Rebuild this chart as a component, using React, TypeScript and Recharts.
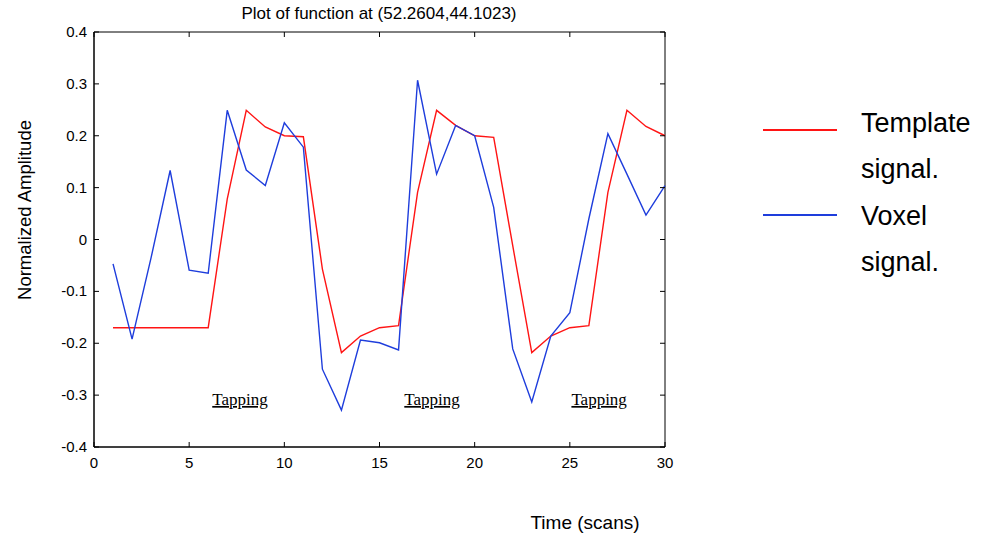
import { LineChart, Line, XAxis, YAxis, ReferenceDot, ReferenceArea } from 'recharts';

// scans 1..30
const scans = [1, 2, 3, 4, 5, 6, 7, 8, 9, 10, 11, 12, 13, 14, 15, 16, 17, 18, 19, 20, 21, 22, 23, 24, 25, 26, 27, 28, 29, 30];

const template = [
  -0.17, -0.17, -0.17, -0.17, -0.17, -0.17, 0.078, 0.249, 0.217, 0.2,
  0.198, -0.057, -0.218, -0.186, -0.17, -0.166, 0.091, 0.249, 0.22, 0.2,
  0.197, -0.012, -0.218, -0.186, -0.17, -0.166, 0.091, 0.249, 0.218, 0.2,
];

const voxel = [
  -0.047, -0.192, -0.035, 0.133, -0.059, -0.065, 0.249, 0.134, 0.104, 0.225,
  0.178, -0.25, -0.329, -0.194, -0.199, -0.213, 0.307, 0.126, 0.22, 0.2,
  0.062, -0.211, -0.313, -0.186, -0.141, 0.04, 0.204, 0.126, 0.047, 0.104,
];

const xTicks = [0, 5, 10, 15, 20, 25, 30];
const yTicks = [-0.4, -0.3, -0.2, -0.1, 0, 0.1, 0.2, 0.3, 0.4];

const tappingAt = [7.67, 17.76, 26.54];
const tappingLevel = -0.319;

const data = scans.map((t, i) => ({ t, template: template[i], voxel: voxel[i] }));

const RED = '#ff1414';
const BLUE = '#1e3ddc';
const NARROW = '"Liberation Sans Narrow", "Arial Narrow", "Liberation Sans", Arial, sans-serif';
const SANS = '"Liberation Sans", Arial, sans-serif';

function BottomTick({ x, y, payload }: any) {
  return (
    <g>
      <line x1={x} x2={x} y1={y} y2={y - 5} stroke="#000" />
      <text x={x} y={y + 21} textAnchor="middle" fontSize={15} fontFamily={NARROW} fill="#000">
        {payload.value}
      </text>
    </g>
  );
}

function LeftTick({ x, y, payload }: any) {
  return (
    <g>
      <line x1={x} x2={x + 5} y1={y} y2={y} stroke="#000" />
      <text x={x - 7} y={y + 5} textAnchor="end" fontSize={15} fontFamily={NARROW} fill="#000">
        {String(payload.value)}
      </text>
    </g>
  );
}

function TopTick({ x, y }: any) {
  return <line x1={x} x2={x} y1={y} y2={y + 5} stroke="#000" />;
}

function RightTick({ x, y }: any) {
  return <line x1={x} x2={x - 5} y1={y} y2={y} stroke="#000" />;
}

function TappingLabel({ cx, cy }: any) {
  return (
    <text
      x={cx}
      y={cy}
      textAnchor="middle"
      fontSize={17}
      fontFamily='"Liberation Serif", "Times New Roman", serif'
      textDecoration="underline"
      fill="#000"
    >
      Tapping
    </text>
  );
}

export default function App() {
  return (
    <div style={{ position: 'absolute', left: 0, top: 0, width: 988, height: 539, background: '#fff' }}>
      <LineChart
        width={988}
        height={539}
        data={data}
        margin={{ top: 31, right: 322, bottom: 0, left: 0 }}
      >
        <XAxis
          xAxisId="bottom"
          type="number"
          dataKey="t"
          domain={[0, 30]}
          ticks={xTicks}
          interval={0}
          height={92}
          tickSize={0}
          tickMargin={0}
          tickLine={false}
          axisLine={{ stroke: '#000' }}
          tick={<BottomTick />}
        />
        <XAxis
          xAxisId="top"
          orientation="top"
          type="number"
          dataKey="t"
          domain={[0, 30]}
          ticks={xTicks}
          interval={0}
          height={1}
          tickSize={0}
          tickMargin={0}
          tickLine={false}
          axisLine={false}
          tick={<TopTick />}
        />
        <YAxis
          yAxisId="left"
          type="number"
          domain={[-0.4, 0.4]}
          ticks={yTicks}
          interval={0}
          width={94}
          tickSize={0}
          tickMargin={0}
          tickLine={false}
          axisLine={{ stroke: '#000' }}
          tick={<LeftTick />}
        />
        <YAxis
          yAxisId="right"
          orientation="right"
          type="number"
          domain={[-0.4, 0.4]}
          ticks={yTicks}
          interval={0}
          width={1}
          tickSize={0}
          tickMargin={0}
          tickLine={false}
          axisLine={false}
          tick={<RightTick />}
        />
        <ReferenceArea
          xAxisId="bottom"
          yAxisId="left"
          x1={0}
          x2={30}
          y1={-0.4}
          y2={0.4}
          fill="none"
          stroke="#000"
          strokeWidth={1}
        />
        {/* invisible series so the top / right axes get their ticks */}
        <Line
          xAxisId="top"
          yAxisId="right"
          type="linear"
          dataKey="template"
          stroke="none"
          dot={false}
          activeDot={false}
          legendType="none"
          isAnimationActive={false}
        />
        <Line
          xAxisId="bottom"
          yAxisId="left"
          type="linear"
          dataKey="template"
          stroke={RED}
          strokeWidth={1.4}
          dot={false}
          isAnimationActive={false}
        />
        <Line
          xAxisId="bottom"
          yAxisId="left"
          type="linear"
          dataKey="voxel"
          stroke={BLUE}
          strokeWidth={1.4}
          dot={false}
          isAnimationActive={false}
        />
        {tappingAt.map((t) => (
          <ReferenceDot
            key={t}
            xAxisId="bottom"
            yAxisId="left"
            x={t}
            y={tappingLevel}
            r={1}
            shape={<TappingLabel />}
          />
        ))}
      </LineChart>

      <div style={{ position: 'absolute', left: 379, top: 4, transform: 'translateX(-50%)', whiteSpace: 'nowrap', fontFamily: NARROW, fontSize: 17 }}>
        Plot of function at (52.2604,44.1023)
      </div>
      <div style={{ position: 'absolute', left: 25, top: 210, transform: 'translate(-50%, -50%) rotate(-90deg)', whiteSpace: 'nowrap', fontFamily: SANS, fontSize: 18.5 }}>
        Normalized Amplitude
      </div>
      <div style={{ position: 'absolute', left: 585, top: 523, transform: 'translate(-50%, -50%)', whiteSpace: 'nowrap', fontFamily: SANS, fontSize: 19 }}>
        Time (scans)
      </div>

      <div style={{ position: 'absolute', left: 763, top: 129, width: 74, height: 2, background: RED }} />
      <div style={{ position: 'absolute', left: 763, top: 214, width: 74, height: 2, background: BLUE }} />
      <div style={{ position: 'absolute', left: 861, top: 100, fontFamily: SANS, fontSize: 27, lineHeight: '46.3px' }}>
        Template<br />signal.<br />Voxel<br />signal.
      </div>
    </div>
  );
}
